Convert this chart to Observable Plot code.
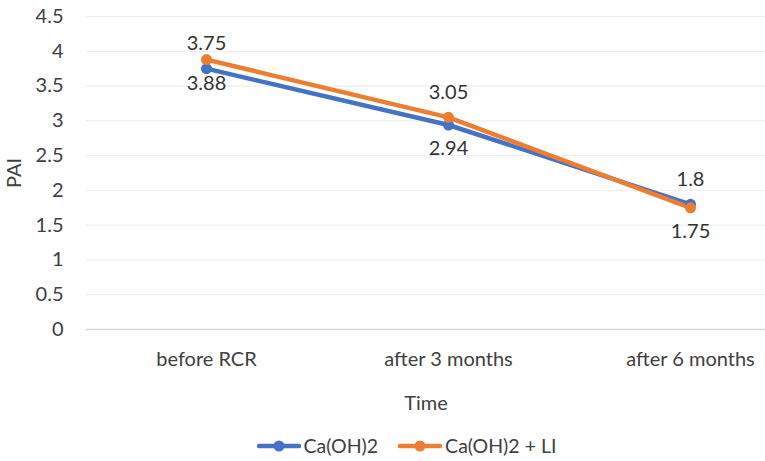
<!DOCTYPE html>
<html><head><meta charset="utf-8">
<script src="https://cdn.jsdelivr.net/npm/d3@7"></script>
<script src="https://cdn.jsdelivr.net/npm/@observablehq/plot@0.6"></script>
<style>
body{margin:0;background:#fff;font-family:Lato,"Open Sans",sans-serif;}
#wrap{width:765px;height:461px;position:relative;}
#legend{display:flex;justify-content:center;align-items:center;gap:20px;height:31px;font-size:19.5px;color:#404040;padding-left:48px;box-sizing:border-box;width:765px;}
.item{display:flex;align-items:center;gap:3px;}
</style>
</head><body>
<div id="wrap"><div id="chart"></div><div id="legend"></div></div>
<script>
const categories = ["before RCR", "after 3 months", "after 6 months"];
const seriesNames = ["Ca(OH)2", "Ca(OH)2 + LI"];
const caoh2 = [3.75, 2.94, 1.8];
const caoh2Li = [3.88, 3.05, 1.75];
const caoh2LabelSide = ["above", "below", "above"];
const caoh2LiLabelSide = ["below", "above", "below"];
const yTicks = [0, 0.5, 1, 1.5, 2, 2.5, 3, 3.5, 4, 4.5];
const colors = ["#4472C4", "#ED7D31"];

const rows = [];
categories.forEach((c, i) => rows.push({cat: c, v: caoh2[i], s: seriesNames[0], side: caoh2LabelSide[i]}));
categories.forEach((c, i) => rows.push({cat: c, v: caoh2Li[i], s: seriesNames[1], side: caoh2LiLabelSide[i]}));

const FS = 20;
const plot = Plot.plot({
  width: 765, height: 430,
  marginLeft: 86, marginRight: 0, marginTop: 16, marginBottom: 101,
  style: {fontFamily: "Lato, 'Open Sans', sans-serif", fontSize: FS + "px", color: "#404040", background: "#fff"},
  x: {type: "point", domain: categories, range: [206, 690], padding: 0},
  y: {domain: [0, 4.5]},
  color: {domain: seriesNames, range: colors},
  marks: [
    Plot.ruleY(yTicks.filter(d => d > 0), {stroke: "#ececec", strokeWidth: 1}),
    Plot.ruleY([0], {stroke: "#d9d9d9", strokeWidth: 1.5}),
    Plot.axisY(yTicks, {tickSize: 0, tickPadding: 23, tickFormat: d => String(d), fontSize: FS,
      label: "PAI", labelAnchor: "center", labelOffset: 80, labelArrow: "none"}),
    Plot.axisX({tickSize: 0, tickPadding: 22, fontSize: FS,
      label: "Time", labelAnchor: "center", labelOffset: 80, labelArrow: "none"}),
    Plot.line(rows, {x: "cat", y: "v", z: "s", stroke: "s", strokeWidth: 4.5, strokeLinecap: "round", strokeLinejoin: "round"}),
    Plot.dot(rows, {x: "cat", y: "v", fill: "s", r: 5.5}),
    Plot.text(rows.filter(d => d.side === "above"), {x: "cat", y: "v", text: d => String(d.v), dy: -25, fontSize: FS, fill: "#333"}),
    Plot.text(rows.filter(d => d.side === "below"), {x: "cat", y: "v", text: d => String(d.v), dy: 24, fontSize: FS, fill: "#333"})
  ]
});
document.getElementById("chart").appendChild(plot);

const legend = document.getElementById("legend");
seriesNames.forEach((name, i) => {
  const item = document.createElement("div");
  item.className = "item";
  item.innerHTML = `<svg width="44" height="12"><line x1="2" y1="6" x2="42" y2="6" stroke="${colors[i]}" stroke-width="4.5" stroke-linecap="round"/><circle cx="22" cy="6" r="5.5" fill="${colors[i]}"/></svg><span>${name}</span>`;
  legend.appendChild(item);
});
</script>
</body></html>
